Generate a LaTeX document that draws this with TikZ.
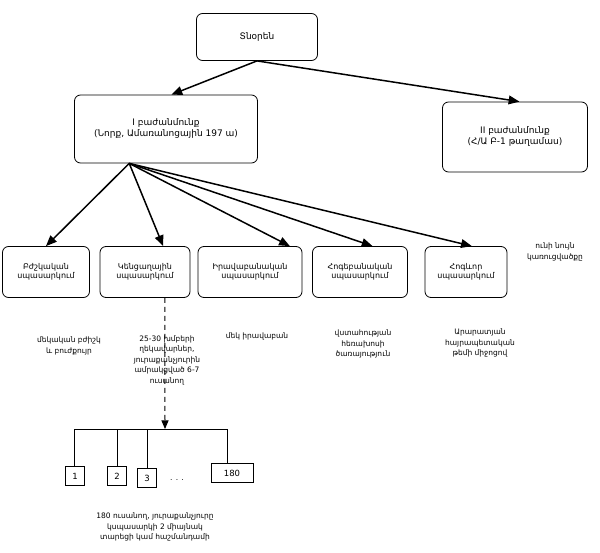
\documentclass[tikz,border=0pt]{standalone}
\usepackage{fontspec}
\setmainfont{DejaVu Sans}
\usetikzlibrary{arrows,calc}

\tikzset{
  box/.style={draw, line width=0.8pt, rounded corners=6pt, align=center, inner sep=1pt, font=\fontsize{8}{9.5}\selectfont},
  bigbox/.style={box, font=\fontsize{9}{11}\selectfont},
  numbox/.style={draw, line width=0.8pt, minimum width=19pt, minimum height=19pt, inner sep=0pt, font=\fontsize{8.5}{9}\selectfont},
  txt/.style={align=center, inner sep=0pt, font=\fontsize{7.5}{10.5}\selectfont},
  arr/.style={-triangle 45, line width=1.5pt},
}

\begin{document}
\begin{tikzpicture}[x=1pt,y=-1pt]
\useasboundingbox (0,0) rectangle (600,553);
% top of the chart
\node[bigbox, minimum width=121pt, minimum height=47pt] (dir) at (257,37) {Տնօրեն};
\node[bigbox, minimum width=183pt, minimum height=68pt] (dept1) at (166,129)
  {I բաժանմունք\\(Նորք, Ամառանոցային 197 ա)};
\node[bigbox, minimum width=145pt, minimum height=70pt] (dept2) at (515,137)
  {II բաժանմունք\\(Հ/Ա Բ-1 թաղամաս)};
\draw[arr] (dir.south) -- ($(dept1.north west)!0.53!(dept1.north east)$);
\draw[arr] (dir.south) -- ($(dept2.north west)!0.53!(dept2.north east)$);

% services
\node[box, minimum width=87pt, minimum height=51pt] (med) at (46,272) {Բժշկական\\սպասարկում};
\node[box, minimum width=90pt, minimum height=51pt] (dom) at (145,272) {Կենցաղային\\սպասարկում};
\node[box, minimum width=104pt, minimum height=51pt] (law) at (250,272) {Իրավաբանական\\սպասարկում};
\node[box, minimum width=95pt, minimum height=51pt] (psy) at (360,272) {Հոգեբանական\\սպասարկում};
\node[box, minimum width=82pt, minimum height=51pt] (spir) at (466,272) {Հոգևոր\\սպասարկում};
\node[txt] (same) at (555,252) {ունի նույն\\կառուցվածքը};

\coordinate (fan) at ($(dept1.south west)!0.3!(dept1.south east)$);
\draw[arr] (fan) -- ($(med.north west)!0.5!(med.north east)$);
\draw[arr] (fan) -- ($(dom.north west)!0.7!(dom.north east)$);
\draw[arr] (fan) -- ($(law.north west)!0.88!(law.north east)$);
\draw[arr] (fan) -- ($(psy.north west)!0.63!(psy.north east)$);
\draw[arr] (fan) -- ($(spir.north west)!0.57!(spir.north east)$);

% what each service has
\node[txt] (medtxt) at (69,346) {մեկական բժիշկ\\և բուժքույր};
\node[txt] (domtxt) at (167,360) {25-30 խմբերի\\ղեկավարներ,\\յուրաքանչյուրին\\ամրակցված 6-7\\ուսանող};
\node[txt] (lawtxt) at (257,336) {մեկ իրավաբան};
\node[txt] (psytxt) at (363,344) {վստահության\\հեռախոսի\\ծառայություն};
\node[txt] (spirtxt) at (480,343) {Արարատյան\\հայրապետական\\թեմի միջոցով};

% students
\coordinate (hub) at (165,429);
\coordinate (bl) at (74,429);
\coordinate (br) at (227,429);
\draw[-triangle 45, line width=1pt, dash pattern=on 5pt off 4pt] ($(dom.south west)!0.72!(dom.south east)$) -- (hub);
\draw[line width=0.8pt] (bl) -- (br);
\node[numbox] (n1) at (75,476) {1};
\node[numbox] (n2) at (117,476) {2};
\node[numbox] (n3) at (147,478) {3};
\node[numbox, minimum width=42pt] (n180) at (232,473) {180};
\node[txt] (dots) at (177,480) {. . .};
\draw[line width=0.8pt] (bl) -- (bl |- n1.north);
\draw[line width=0.8pt] (n2.north |- bl) -- (n2.north);
\draw[line width=0.8pt] (n3.north |- bl) -- (n3.north);
\draw[line width=0.8pt] (br) -- (br |- n180.north);
\node[txt] (stud) at (155,527) {180 ուսանող, յուրաքանչյուրը\\կսպասարկի 2 միայնակ\\տարեցի կամ հաշմանդամի};
\end{tikzpicture}
\end{document}
